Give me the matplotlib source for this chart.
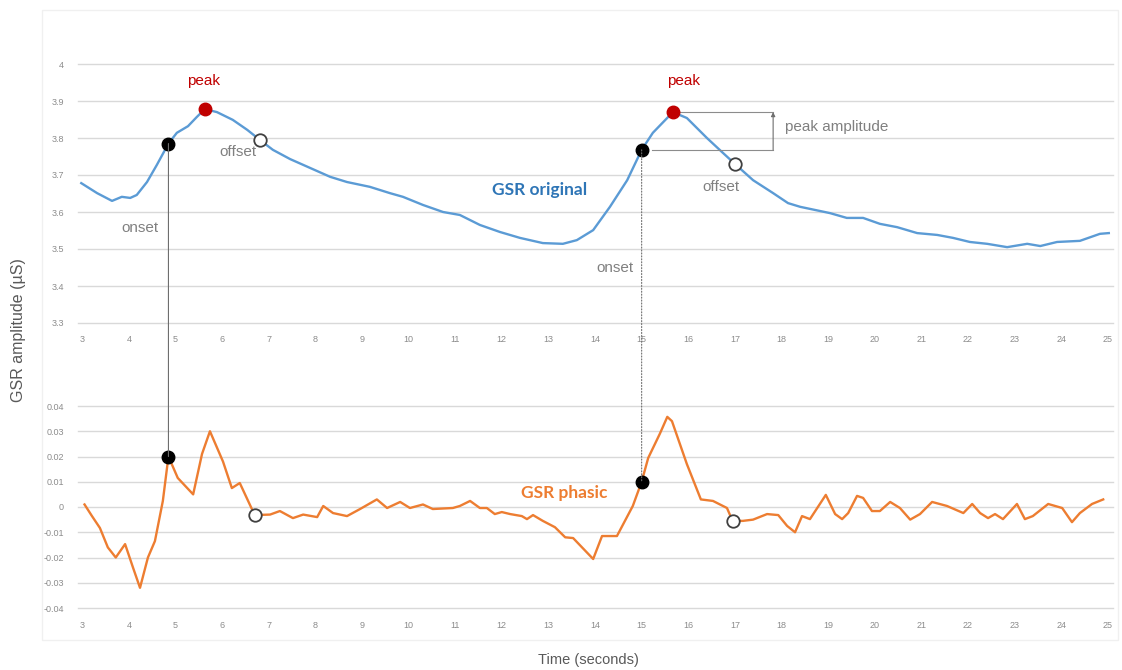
import numpy as np
import matplotlib
matplotlib.use('Agg')
import matplotlib.pyplot as plt
from matplotlib.patches import ConnectionPatch, Rectangle

plt.rcParams['font.family'] = ['Liberation Sans', 'DejaVu Sans']

# GSR original (µS)
t_orig = [2.98, 3.32, 3.64, 3.85, 4.03, 4.17, 4.39, 4.60, 4.85, 5.03, 5.27, 5.46, 5.63,
          5.89, 6.23, 6.54, 6.81, 7.09, 7.46, 7.89, 8.32, 8.68, 9.17, 9.60, 9.88, 10.31,
          10.74, 11.10, 11.53, 11.96, 12.39, 12.88, 13.31, 13.61, 13.96, 14.32, 14.69,
          15.00, 15.24, 15.67, 15.97, 16.40, 16.75, 17.00, 17.39, 17.82, 18.14, 18.40,
          19.04, 19.40, 19.75, 20.11, 20.48, 20.91, 21.34, 21.68, 22.04, 22.41, 22.84,
          23.27, 23.55, 23.91, 24.40, 24.83, 25.02]
v_orig = [3.678, 3.651, 3.630, 3.641, 3.638, 3.646, 3.681, 3.727, 3.785, 3.814, 3.832,
          3.857, 3.878, 3.870, 3.849, 3.822, 3.795, 3.768, 3.743, 3.719, 3.695, 3.681,
          3.668, 3.651, 3.641, 3.619, 3.600, 3.592, 3.565, 3.546, 3.530, 3.516, 3.514,
          3.524, 3.551, 3.614, 3.686, 3.768, 3.814, 3.870, 3.854, 3.800, 3.759, 3.730,
          3.686, 3.651, 3.624, 3.614, 3.597, 3.584, 3.584, 3.568, 3.559, 3.543, 3.538,
          3.530, 3.519, 3.514, 3.505, 3.514, 3.508, 3.519, 3.522, 3.541, 3.543]

# GSR phasic
t_phas = [3.05, 3.21, 3.38, 3.55, 3.72, 3.92, 4.09, 4.24, 4.41, 4.56,
          4.73, 4.85, 5.05, 5.38, 5.57, 5.74, 6.02, 6.21, 6.38, 6.70,
          7.03, 7.24, 7.52, 7.74, 8.04, 8.17, 8.38, 8.68, 8.96, 9.32,
          9.54, 9.82, 10.03, 10.31, 10.52, 10.95, 11.10, 11.32, 11.53, 11.68,
          11.85, 12.00, 12.18, 12.43, 12.54, 12.67, 12.88, 13.14, 13.36, 13.53,
          13.96, 14.15, 14.47, 14.81, 15.00, 15.14, 15.39, 15.55, 15.65, 15.97,
          16.27, 16.53, 16.83, 16.95, 17.17, 17.39, 17.69, 17.93, 18.12, 18.29,
          18.44, 18.61, 18.95, 19.15, 19.30, 19.43, 19.62, 19.75, 19.94, 20.11,
          20.33, 20.54, 20.76, 20.97, 21.23, 21.55, 21.90, 22.09, 22.26, 22.43,
          22.58, 22.75, 23.05, 23.22, 23.39, 23.72, 24.02, 24.23, 24.40, 24.66,
          24.90]
v_phas = [0.0010, -0.0036, -0.0083, -0.0160, -0.0200, -0.0147, -0.0240, -0.0320, -0.0200, -0.0135,
          0.0024, 0.0200, 0.0115, 0.0050, 0.0210, 0.0300, 0.0180, 0.0075, 0.0095, -0.0032,
          -0.0030, -0.0016, -0.0044, -0.0030, -0.0040, 0.0004, -0.0024, -0.0036, -0.0008, 0.0030,
          -0.0004, 0.0020, -0.0004, 0.0010, -0.0008, -0.0004, 0.0004, 0.0024, -0.0004, -0.0004,
          -0.0028, -0.0020, -0.0028, -0.0036, -0.0048, -0.0032, -0.0055, -0.0080, -0.0120, -0.0123,
          -0.0206, -0.0115, -0.0115, 0.0004, 0.0100, 0.0194, 0.0290, 0.0357, 0.0340, 0.0170,
          0.0030, 0.0024, -0.0004, -0.0055, -0.0055, -0.0050, -0.0028, -0.0032, -0.0075, -0.0100,
          -0.0036, -0.0048, 0.0048, -0.0028, -0.0048, -0.0024, 0.0044, 0.0036, -0.0016, -0.0016,
          0.0020, -0.0004, -0.0050, -0.0028, 0.0020, 0.0004, -0.0024, 0.0012, -0.0024, -0.0044,
          -0.0028, -0.0048, 0.0012, -0.0048, -0.0036, 0.0012, -0.0004, -0.0060, -0.0024, 0.0012,
          0.0030]

# onset / peak / offset points
onset_t = [4.85, 15.00]
onset_top = [3.785, 3.768]
onset_bot = [0.020, 0.010]
peak_t = [5.63, 15.67]
peak_top = [3.878, 3.870]
offset_top_t = [6.81, 17.00]
offset_top = [3.795, 3.730]
offset_bot_t = [6.70, 16.95]
offset_bot = [-0.0032, -0.0055]

x_ticks = list(range(3, 26))
top_yticks = [3.3, 3.4, 3.5, 3.6, 3.7, 3.8, 3.9, 4.0]
top_ylabels = ['3.3', '3.4', '3.5', '3.6', '3.7', '3.8', '3.9', '4']
bot_yticks = [-0.04, -0.03, -0.02, -0.01, 0, 0.01, 0.02, 0.03, 0.04]
bot_ylabels = ['-0.04', '-0.03', '-0.02', '-0.01', '0', '0.01', '0.02', '0.03', '0.04']

W, H = 1122, 670
fig = plt.figure(figsize=(W / 100, H / 100), dpi=100)

def px_axes(x0, y0, x1, y1):
    return fig.add_axes([x0 / W, 1 - y1 / H, (x1 - x0) / W, (y1 - y0) / H])

# faint chart border
fig.add_artist(Rectangle((42 / W, 1 - 640 / H), (1118 - 42) / W, 630 / H,
                         transform=fig.transFigure, fill=False, ec='#F0F0F0', lw=1))

ax1 = px_axes(78, 64, 1113, 323)
ax2 = px_axes(78, 406, 1113, 608)

grid_c = '#D9D9D9'
tick_c = '#8C8C8C'
for ax, yt, yl in [(ax1, top_yticks, top_ylabels), (ax2, bot_yticks, bot_ylabels)]:
    ax.set_xlim(2.91, 25.11)
    for s in ax.spines.values():
        s.set_visible(False)
    ax.set_yticks(yt)
    ax.set_yticklabels(yl)
    ax.set_xticks(x_ticks)
    ax.set_xticklabels([str(x) for x in x_ticks])
    ax.tick_params(length=0, labelsize=6.5, labelcolor=tick_c, pad=10)
    ax.tick_params(axis='x', pad=9)
    ax.grid(axis='y', color=grid_c, lw=1)
    ax.set_axisbelow(True)

ax1.set_ylim(3.3, 4.0)
ax2.set_ylim(-0.04, 0.04)
for ax in (ax1, ax2):
    for gl in ax.get_ygridlines():
        gl.set_clip_on(False)

blue = '#5B9BD5'
orange = '#ED7D31'
ax1.plot(t_orig, v_orig, color=blue, lw=1.7, solid_joinstyle='round', zorder=2)
ax2.plot(t_phas, v_phas, color=orange, lw=1.7, solid_joinstyle='round', zorder=2)

# markers
ms = 9
ax1.plot(onset_t, onset_top, 'o', color='black', ms=ms, zorder=4)
ax2.plot(onset_t, onset_bot, 'o', color='black', ms=ms, zorder=4)
ax1.plot(peak_t, peak_top, 'o', color='#C00000', ms=ms, zorder=4)
ax1.plot(offset_top_t, offset_top, 'o', mfc='white', mec='#404040', mew=1.3, ms=ms, zorder=4)
ax2.plot(offset_bot_t, offset_bot, 'o', mfc='white', mec='#404040', mew=1.3, ms=ms, zorder=4)

# onset connectors between the two panels
for i, ls in enumerate(['-', ':']):
    con = ConnectionPatch(xyA=(onset_t[i], onset_top[i]), coordsA='data', axesA=ax1,
                          xyB=(onset_t[i], onset_bot[i]), coordsB='data', axesB=ax2,
                          color='#6E6E6E', lw=0.8, ls=ls, zorder=1)
    fig.add_artist(con)

# peak amplitude bracket
xb = 17.82
ax1.plot([15.82, xb], [peak_top[1], peak_top[1]], color='#8C8C8C', lw=0.8)
ax1.plot([15.22, xb], [onset_top[1], onset_top[1]], color='#8C8C8C', lw=0.8)
ax1.annotate('', xy=(xb, peak_top[1]), xytext=(xb, onset_top[1]),
             arrowprops=dict(arrowstyle='-|>', color='#6E6E6E', lw=0.8,
                             mutation_scale=6, shrinkA=0, shrinkB=0))

gray = '#808080'
ax1.text(18.08, 3.83, 'peak amplitude', color=gray, fontsize=11, ha='left', va='center')
for t, y in [(5.61, 3.954), (15.89, 3.954)]:
    ax1.text(t, y, 'peak', color='#C00000', fontsize=11, ha='center', va='center')
for t, y in [(4.24, 3.557), (14.43, 3.449)]:
    ax1.text(t, y, 'onset', color=gray, fontsize=11, ha='center', va='center')
for t, y in [(6.34, 3.762), (16.70, 3.668)]:
    ax1.text(t, y, 'offset', color=gray, fontsize=11, ha='center', va='center')
ax1.text(12.80, 3.659, 'GSR original', color='#2E75B6', fontsize=12.5, fontweight='bold',
         family=['Lato', 'DejaVu Sans'], ha='center', va='center')
ax2.text(13.33, 0.0055, 'GSR phasic', color=orange, fontsize=12.5, fontweight='bold',
         family=['Lato', 'DejaVu Sans'], ha='center', va='center')

fig.text(18 / W, 1 - 330 / H, 'GSR amplitude (µS)', rotation=90, color='#595959',
         fontsize=11.5, ha='center', va='center')
fig.text(588 / W, 1 - 660 / H, 'Time (seconds)', color='#595959', fontsize=10.5,
         ha='center', va='center')

fig.savefig('out.png', dpi=100, facecolor='white')
